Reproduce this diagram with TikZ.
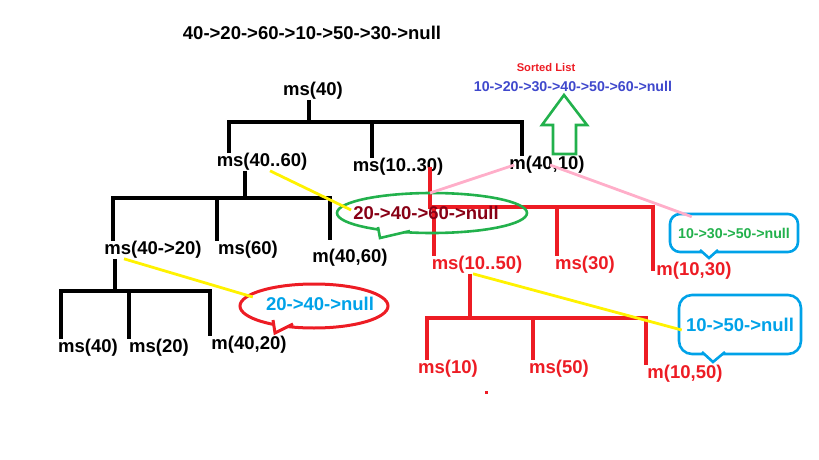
\documentclass[tikz,border=0pt]{standalone}
\usepackage{fontspec}
\setmainfont{Liberation Sans}
\definecolor{pRed}{HTML}{ED1C24}
\definecolor{pGreen}{HTML}{22B14C}
\definecolor{pCyan}{HTML}{00A2E8}
\definecolor{pYel}{HTML}{FFF200}
\definecolor{pPink}{HTML}{FFAEC9}
\definecolor{pMaroon}{HTML}{880015}
\definecolor{pIndigo}{HTML}{3F48CC}

\begin{document}
\begin{tikzpicture}[x=1pt,y=-1pt,
      lbl/.style={inner sep=0pt,text=#1,font=\fontsize{18.5}{22}\selectfont\bfseries},
      lbl/.default=black,
      sml/.style={inner sep=0pt,text=#1,font=\fontsize{14.2}{17}\selectfont\bfseries},
      sml/.default=black,
      branch/.style={line width=3.2pt,draw=#1},
      branch/.default=black,
      hint/.style={line width=2.8pt,draw=#1},
      bubble/.style={line width=2.6pt,draw=#1},
      callbox/.style={bubble=pCyan,rounded corners=10pt,inner sep=0pt}]
    \useasboundingbox (0,0) rectangle (819,460);
    \node[lbl] (input) at (312,33) {40->20->60->10->50->30->null};
    \node[sml=pRed,font=\fontsize{11.2}{13}\selectfont\bfseries] (sorted) at (546,67) {Sorted List};
    \node[sml=pIndigo] (result) at (573,86) {10->20->30->40->50->60->null};
    \draw[bubble=pGreen] (564,95) -- (542,125) -- (553,125) -- (553,154) -- (576,154) -- (576,125) -- (587,125) -- cycle;
    \node[lbl] (ms40) at (313,91) {ms(40)};
    \node[lbl] (ms4060) at (262,162) {ms(40..60)};
    \node[lbl] (ms1030) at (398,167) {ms(10..30)};
    \node[lbl] (m4010) at (547,165) {m(40,10)};
    \node[lbl] (ms4020) at (153,250) {ms(40->20)};
    \node[lbl] (ms60) at (248,250) {ms(60)};
    \node[lbl] (m4060) at (350,258) {m(40,60)};
    \node[lbl] (ms40b) at (88,348) {ms(40)};
    \node[lbl] (ms20) at (159,348) {ms(20)};
    \node[lbl] (m4020) at (249,345) {m(40,20)};
    \node[lbl=pRed] (ms1050) at (477,265) {ms(10..50)};
    \node[lbl=pRed] (ms30) at (585,265) {ms(30)};
    \node[lbl=pRed] (m1030) at (694,271) {m(10,30)};
    \node[lbl=pRed] (ms10) at (448,369) {ms(10)};
    \node[lbl=pRed] (ms50) at (559,369) {ms(50)};
    \node[lbl=pRed] (m1050) at (685,374) {m(10,50)};
    \coordinate (t0) at (309,122);
    \coordinate (t1) at (229,122);
    \coordinate (t2) at (372,122);
    \coordinate (t3) at (522,122);
    \draw[branch] (t0 |- ms40.south) -- (t0);
    \draw[branch] (t1 |- ms4060.north) -- (t1) -- (t3) -- (t3 |- m4010.north);
    \draw[branch] (t2) -- (t2 |- ms1030.north);
    \coordinate (u0) at (245,198);
    \coordinate (u1) at (113,198);
    \coordinate (u2) at (217,198);
    \coordinate (u3) at (330,198);
    \draw[branch] (u0 |- ms4060.south) -- (u0);
    \draw[branch] (u1 |- ms4020.north) -- (u1) -- (u3) -- ([yshift=9pt]u3 |- m4060.north);
    \draw[branch] (u2) -- (u2 |- ms60.north);
    \coordinate (v0) at (115,291);
    \coordinate (v1) at (61,291);
    \coordinate (v2) at (129,291);
    \coordinate (v3) at (210,291);
    \draw[branch] (v0 |- ms4020.south) -- (v0);
    \draw[branch] (v1 |- ms40b.north) -- (v1) -- (v3) -- (v3 |- m4020.north);
    \draw[branch] (v2) -- (v2 |- ms20.north);
    \coordinate (r0) at (430,207);
    \coordinate (r1) at (434,207);
    \coordinate (r2) at (557,207);
    \coordinate (r3) at (653,207);
    \draw[branch=pRed] (r0 |- ms1030.center) -- (r0) -- (r3) -- (r3 |- m1030.center);
    \draw[branch=pRed] (r1) -- (r1 |- ms1050.north);
    \draw[branch=pRed] (r2) -- (r2 |- ms30.north);
    \coordinate (w0) at (470,318);
    \coordinate (w1) at (427,318);
    \coordinate (w2) at (533,318);
    \coordinate (w3) at (646,318);
    \draw[branch=pRed] (w0 |- ms1050.south) -- (w0);
    \draw[branch=pRed] (w1 |- ms10.north) -- (w1) -- (w3) -- (w3 |- m1050.north);
    \draw[branch=pRed] (w2) -- (w2 |- ms50.north);
    \fill[pRed] (484.5,390.5) rectangle (487.5,394);
    \draw[bubble=pGreen] (432,213) ellipse [x radius=95, y radius=20];
    \draw[bubble=pGreen,fill=white] (378,227) -- (380,238) -- (410,231);
    \node[lbl=pMaroon] (e4060) at (426,213) {20->40->60->null};
    \draw[bubble=pRed,line width=3pt] (314,306) ellipse [x radius=74, y radius=22];
    \draw[bubble=pRed,line width=3pt,fill=white] (273,320) -- (275,333) -- (293,324);
    \node[lbl=pCyan] (e4020) at (320,304) {20->40->null};
    \node[callbox,minimum width=128,minimum height=38,sml=pGreen] (b1030) at (734,233) {10->30->50->null};
    \draw[bubble=pCyan,fill=white] (700,250) -- (709,258) -- (718,250);
    \node[callbox,rounded corners=13pt,minimum width=122,minimum height=59,lbl=pCyan] (b1050) at (740,324.5) {10->50->null};
    \draw[bubble=pCyan,fill=white] (702,352) -- (713,362) -- (725,352);
    \coordinate (pk) at (430,193);
    \draw[hint=pPink] (pk) -- ([xshift=5pt]m4010.west);
    \draw[hint=pPink] ([xshift=3pt]m4010.center) -- ([xshift=23pt,yshift=-4pt]b1030.north west);
    \draw[hint=pYel] ([xshift=8pt]ms4060.south) -- ([xshift=-2pt,yshift=3pt]e4060.west);
    \draw[hint=pYel] ([xshift=-29pt]ms4020.south) -- ([xshift=-13pt,yshift=7pt]e4020.west);
    \draw[hint=pYel] ([xshift=-4pt]ms1050.south) -- ([xshift=4pt,yshift=-5.5pt]b1050.west);
    \end{tikzpicture}
\end{document}
